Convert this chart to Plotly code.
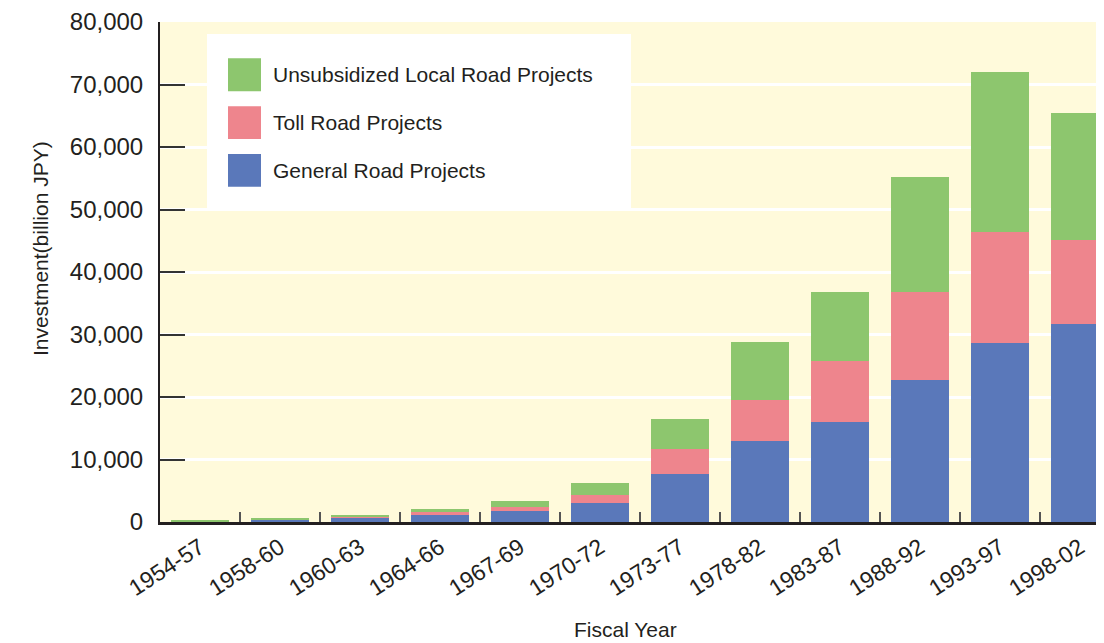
import plotly.graph_objects as go

# fiscal periods and investment (billion JPY)
periods = ['1954-57', '1958-60', '1960-63', '1964-66', '1967-69', '1970-72',
           '1973-77', '1978-82', '1983-87', '1988-92', '1993-97', '1998-02']
general = [120, 400, 650, 1130, 1770, 3050, 7720, 12930, 15960, 22660, 28720, 31750]
toll = [20, 30, 150, 480, 640, 1270, 3940, 6590, 9730, 14200, 17710, 13400]
local = [180, 70, 330, 480, 960, 1920, 4780, 9360, 11170, 18340, 25520, 20260]

series = [
    ('General Road Projects', general, '#5a78ba'),
    ('Toll Road Projects', toll, '#ee858d'),
    ('Unsubsidized Local Road Projects', local, '#8dc66e'),
]

TXT = '#231f20'
FONT = 'Liberation Sans, Arial, sans-serif'

# the page puts the figure 8px in from the top-left corner
OFF = 8
W, H = 1104 - OFF, 643 - OFF
# plot area in window pixels, used to turn pixel spots into paper coords
L, R, T, B = 160, 1104, 20, 522
def px(x):
    return (x - L) / (R - L)
def py(y):
    return (B - y) / (B - T)

fig = go.Figure()
for name, vals, col in series:
    fig.add_trace(go.Bar(x=periods, y=vals, name=name, marker_color=col,
                         marker_line_width=0, width=0.72))

shapes = [dict(type='rect', xref='paper', yref='paper', layer='above',
               x0=px(207), x1=px(631), y0=py(207), y1=py(32),
               fillcolor='white', line_width=0)]
annotations = []
# hand-made legend, top item first
for i, (name, vals, col) in enumerate(reversed(series)):
    cy = 73 + 48 * i
    shapes.append(dict(type='rect', xref='paper', yref='paper', layer='above',
                       x0=px(228), x1=px(261), y0=py(cy + 16.5), y1=py(cy - 16.5),
                       fillcolor=col, line_width=0))
    annotations.append(dict(text=name, xref='paper', yref='paper', x=px(271), y=py(cy),
                            xanchor='left', yanchor='middle', showarrow=False,
                            font=dict(size=21, color=TXT)))

annotations.append(dict(text='Investment(billion JPY)', xref='paper', yref='paper',
                        x=px(40), y=py(248), textangle=-90, showarrow=False,
                        xanchor='center', yanchor='middle', font=dict(size=21, color=TXT)))
annotations.append(dict(text='Fiscal Year', xref='paper', yref='paper',
                        x=px(625), y=py(630), showarrow=False,
                        xanchor='center', yanchor='middle', font=dict(size=21, color=TXT)))

fig.update_layout(
    barmode='stack',
    width=W, height=H,
    margin=dict(l=L - OFF, r=1104 - R, t=T - OFF, b=H - (B - OFF)),
    paper_bgcolor='white',
    plot_bgcolor='#fffadb',
    font=dict(family=FONT, color=TXT, size=23),
    showlegend=False,
    shapes=shapes,
    annotations=annotations,
)
fig.update_xaxes(
    type='category', range=[-0.5, 11.3], tickson='boundaries', ticks='inside', ticklen=10,
    tickwidth=1.5, tickcolor='#555555', tickangle=-33,
    showline=True, linecolor=TXT, linewidth=3, showgrid=False,
    tickfont=dict(size=23),
)
fig.update_yaxes(
    range=[0, 80000], dtick=10000, tickformat=',d', ticks='inside', ticklen=25,
    tickwidth=1.5, tickcolor='#333333', showline=True, linecolor=TXT, linewidth=2,
    gridcolor='white', gridwidth=3, zeroline=False, ticklabelstandoff=10,
    ticklabeloverflow='allow', tickfont=dict(size=24),
)

fig.write_html('out.html')
